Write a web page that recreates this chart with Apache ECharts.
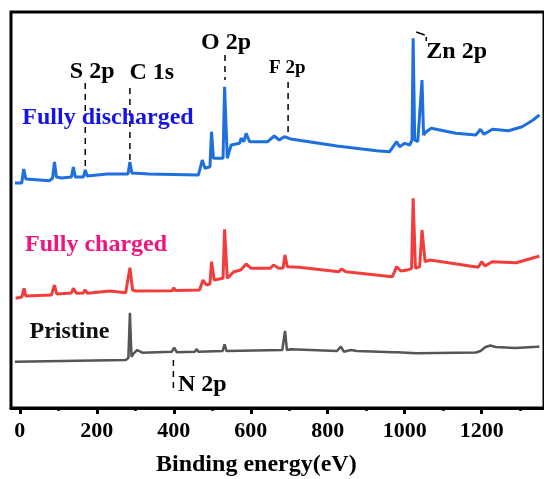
<!DOCTYPE html>
<html>
<head>
<meta charset="utf-8">
<script src="https://cdn.jsdelivr.net/npm/echarts@6/dist/echarts.min.js"></script>
<style>html,body{margin:0;padding:0;background:#fff}#c{width:544px;height:479px}</style>
</head>
<body>
<div id="c"></div>
<script>
// ---- data (binding energy eV, intensity a.u. with vertical offsets) ----
const dischargedE = [-13,5,10,15.5,18,77,85,90,95,108,134,139,144,165,170,175,227,232,237,281,286,291,335,464,468,474,476,481,494,498,503,528,532,539,549,571,575,582,588,597,644,661,674,687,704,824,927,961,979,987,1000,1013,1019,1022,1026,1034,1045,1049,1056,1069,1133,1185,1197,1206,1228,1270,1305,1331,1350];
const dischargedI = [225,225,239,229,227,227.3,230,246,231,230,231,241,231,231,238,232,234,235.3,234,234,246,235,234,233,231.3,248,249.7,239.7,241.3,276.3,249.7,249.7,321.3,249.7,263,264.7,269.7,266.3,274.7,266.3,266.3,272,268,271.3,269,262,257.3,256.3,266.3,261.3,264.7,263,268,369.7,268,266.3,328,273,276.3,279.7,274.7,273,278.7,273.7,278.7,277.3,281.3,287.3,293];

const chargedE = [-11,5,11,15.5,20,82,90,96,134,139,147,165,169,176,234,275,286,293,301,396,400,404,467,476,485,494,498,505,528,532,539,556,574,588,601,651,659,673,684,689,695,726,829,836,847,968,979,990,1008,1018,1022,1028,1039,1045,1053,1066,1191,1200,1209,1227,1290,1344,1350];
const chargedI = [109.7,111,119.7,112,111.3,113,123,114,115,119.7,114.7,115,118,114.7,117,115.3,140.3,118,117,117.3,120.3,117.5,118,128,123,124,146.3,128,129.7,178.7,129.7,136.3,138,144,139.7,139.7,143,139.7,140,153,141.3,140.7,136.3,139,136.3,131.3,141.3,137,138,139.7,209.7,139.7,141.3,178,146.3,148,140.7,146.3,142,146.3,145.3,151.3,152];

const pristineE = [-13,275,282,286,290,296,305,318,395,401,408,455,459,464,527,532,537,682,689,694,704,824,834,842,860,876,971,976,981,1030,1185,1197,1210,1223,1236,1288,1344,1350];
const pristineI = [46.3,48,50,95.3,51.3,54.7,58,55.3,56.3,60.3,55.7,56.3,59,56.3,57,63.7,57,58,77,58,58.7,57,61.3,56.3,58,57,55.7,57.5,55.7,54.7,55.5,57,61,62.5,61,60,61.3,61.5];

const majorTicks = [0,200,400,600,800,1000,1200];
const minorTicks = [100,300,500,700,900,1100,1300];

// peak annotation labels: [energy, intensity]
const peakNames = ['S 2p','C 1s','O 2p','F 2p','Zn 2p','N 2p'];
const peakLabelPos = [[188,336],[343,335],[536,365],[695,340],[1135,356],[474,23]];
const peakLines = [ [[170,325],[170,242]], [[286,320],[286,248]], [[533,353],[533,328]], [[697,326],[697,275]], [[1056,371],[1056,367]], [[399,48],[399,18]] ];
const seriesNames = ['Fully discharged','Fully charged','Pristine'];
const seriesLabelPos = [[229,290],[198,163],[129,76]];
const seriesLabelColors = ['#1414e6','#f0147f','#111111'];
const lineColors = ['#1f6fde','#f23d3d','#555555'];

const zip = (a,b) => a.map((v,i)=>[v,b[i]]);
const serif = '"Liberation Serif","DejaVu Serif",serif';

const chart = echarts.init(document.getElementById('c'));
const series = [
  {type:'line', data: zip(dischargedE,dischargedI), showSymbol:false, lineStyle:{color:lineColors[0], width:3}, z:3},
  {type:'line', data: zip(chargedE,chargedI), showSymbol:false, lineStyle:{color:lineColors[1], width:3}, z:3},
  {type:'line', data: zip(pristineE,pristineI), showSymbol:false, lineStyle:{color:lineColors[2], width:2.5}, z:3}
];
peakLines.forEach(seg => series.push({type:'line', data: seg, showSymbol:false, silent:true,
  lineStyle:{color:'#000', width:1.5, type:[6,5]}, z:2}));
series.push({type:'line', data:[[1030,376],[1052,373]], showSymbol:false, lineStyle:{color:'#000', width:1.5}, z:2});
series.push({type:'scatter', symbolSize:0, silent:true, z:5, itemStyle:{opacity:1},
  data: peakNames.map((n,i)=>({value:peakLabelPos[i], name:n,
    label:{fontSize: n==='F 2p'?19:24}})),
  label:{show:true, opacity:1, position:'inside', formatter: p=>p.name, color:'#000', fontWeight:'bold', fontFamily:serif, fontSize:24}
});
series.push({type:'scatter', symbolSize:0, silent:true, z:5, itemStyle:{opacity:1},
  data: seriesNames.map((n,i)=>({value:seriesLabelPos[i], name:n, label:{color:seriesLabelColors[i]}})),
  label:{show:true, opacity:1, position:'inside', formatter: p=>p.name, fontWeight:'bold', fontFamily:serif, fontSize:24}
});

chart.setOption({
  animation:false,
  backgroundColor:'#fff',
  grid:{left:11, right:-5, top:12, bottom:71, show:true, borderColor:'#000', borderWidth:3},
  xAxis:[
    {type:'value', min:-23, max:1362, position:'bottom',
      axisLine:{show:true, onZero:false, lineStyle:{color:'#000', width:3}},
      axisTick:{show:true, customValues:majorTicks, length:6, lineStyle:{color:'#000', width:3}},
      axisLabel:{show:true, customValues:majorTicks, formatter: v=>String(v), margin:12, color:'#000', fontSize:22, fontWeight:'bold', fontFamily:serif},
      splitLine:{show:false}},
    {type:'value', min:-23, max:1362, position:'bottom', offset:0,
      axisLine:{show:false},
      axisTick:{show:true, customValues:minorTicks, length:3, lineStyle:{color:'#000', width:2.5}},
      axisLabel:{show:false}, splitLine:{show:false}}
  ],
  yAxis:{type:'value', min:0, max:396, axisLine:{show:false},
    axisTick:{show:false}, axisLabel:{show:false}, splitLine:{show:false}},
  graphic:[{type:'text', left:156, top:453, style:{text:'Binding energy(eV)', fill:'#000', font:'bold 24px '+serif}}],
  series: series
});
</script>
</body>
</html>
